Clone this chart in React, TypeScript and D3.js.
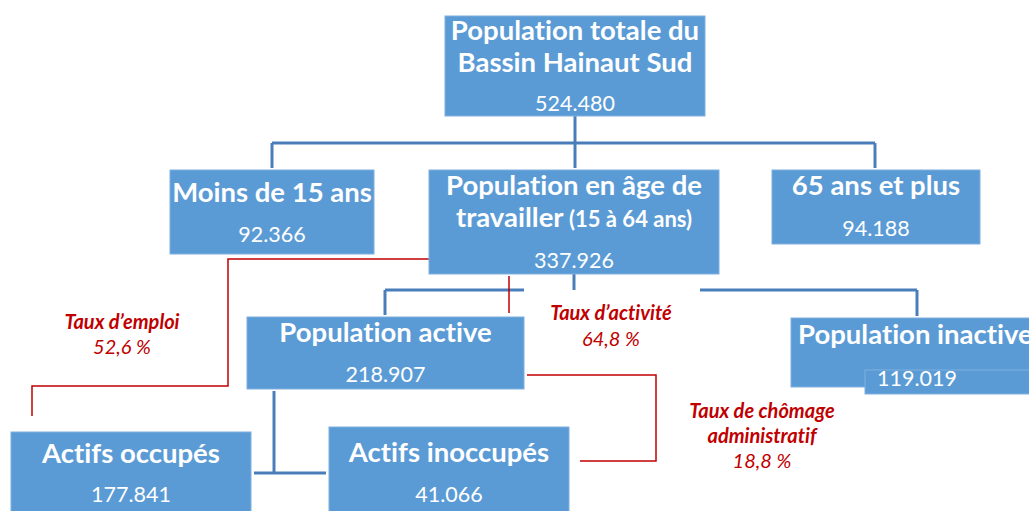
import React from "react";
import * as d3 from "d3";

// ---- data ----
const nodeIds = ["total", "moins15", "age", "plus65", "active", "inactive", "occupes", "inoccupes"];
const nodeTitles = [
  ["Population totale du", "Bassin Hainaut Sud"],
  ["Moins de 15 ans"],
  ["Population en âge de", "travailler"],
  ["65 ans et plus"],
  ["Population active"],
  ["Population inactive"],
  ["Actifs occupés"],
  ["Actifs inoccupés"],
];
const nodeSubtitles = ["", "", "(15 à 64 ans)", "", "", "", "", ""];
const nodeValues = [524480, 92366, 337926, 94188, 218907, 119019, 177841, 41066];
const rateNames = [["Taux d’emploi"], ["Taux d’activité"], ["Taux de chômage", "administratif"]];
const rateValues = [52.6, 64.8, 18.8];

// ---- layout (positions / styles) ----
const boxes: Record<string, { x: number; y: number; w: number; h: number; tb: number[]; vb: number; cx?: number; anchor?: string; tx?: number }> = {
  total: { x: 445, y: 16, w: 260, h: 100, tb: [40, 72], vb: 111 },
  moins15: { x: 170, y: 170, w: 204, h: 84, tb: [202], vb: 242 },
  age: { x: 429, y: 170, w: 290, h: 104, tb: [195, 227], vb: 268 },
  plus65: { x: 772, y: 170, w: 208, h: 74, tb: [195], vb: 236 },
  active: { x: 247, y: 317, w: 277, h: 72, tb: [342], vb: 382 },
  inactive: { x: 791, y: 318, w: 260, h: 69, tb: [344], vb: 386, anchor: "start", tx: 798, cx: 917 },
  occupes: { x: 11, y: 432, w: 240, h: 90, tb: [463], vb: 502 },
  inoccupes: { x: 329, y: 427, w: 240, h: 95, tb: [462], vb: 502 },
};
const rateLayout = [
  { cx: 122, lines: [329], vline: 354 },
  { cx: 611, lines: [320], vline: 346 },
  { cx: 762, lines: [418, 443], vline: 468 },
];
const blueLines: [number, number][][] = [
  [[575, 116], [575, 143]],
  [[272, 143], [875, 143]],
  [[272, 143], [272, 168]],
  [[575, 143], [575, 168]],
  [[875, 143], [875, 168]],
  [[574, 274], [574, 290]],
  [[385, 290], [524, 290]],
  [[700, 290], [917, 290]],
  [[385, 290], [385, 315]],
  [[917, 290], [917, 316]],
  [[274, 391], [274, 473]],
  [[254, 473], [326, 473]],
];
const redLines: [number, number][][] = [
  [[429, 259], [228, 259], [228, 386], [32, 386], [32, 416]],
  [[509, 276], [509, 313]],
  [[527, 375], [656, 375], [656, 461], [580, 461]],
];

const FILL = "#5b9bd5";
const BLUE_LINE = "#4a7ebb";
const RED = "#c00000";
const FONT = "Lato, 'Open Sans', sans-serif";
const TITLE_SIZE = 27.5;
const SUB_SIZE = 22;
const VALUE_SIZE = 21.5;
const RATE_SIZE = 20;

const fmt = (v: number) => d3.format(",")(v).replace(/,/g, ".");
const fmtPct = (v: number) => d3.format(".1f")(v).replace(".", ",") + " %";
const line = d3.line<[number, number]>().x((d) => d[0]).y((d) => d[1]);

export default function App() {
  return (
    <svg
      width={1029}
      height={511}
      style={{ position: "absolute", left: 0, top: 0, background: "#fff", fontVariantLigatures: "none" }}
      fontFamily={FONT}
    >
      {blueLines.map((p, i) => (
        <path key={"b" + i} d={line(p) || ""} stroke={BLUE_LINE} strokeWidth={3} fill="none" />
      ))}
      {redLines.map((p, i) => (
        <path key={"r" + i} d={line(p) || ""} stroke={RED} strokeWidth={1.5} fill="none" />
      ))}
      {nodeIds.map((id, i) => {
        const b = boxes[id];
        const cx = b.cx ?? b.x + b.w / 2;
        return (
          <g key={id}>
            <rect x={b.x} y={b.y} width={b.w} height={b.h} fill={FILL} stroke="#7fb0de" strokeWidth={1} />
            {id === "inactive" && <rect x={865} y={370} width={180} height={24} fill={FILL} stroke="#7fb0de" strokeWidth={1} />}
            {nodeTitles[i].map((t, j) => {
              const last = j === nodeTitles[i].length - 1;
              const sub = last && nodeSubtitles[i];
              return (
                <text
                  key={j}
                  x={b.tx ?? cx}
                  y={b.tb[j]}
                  textAnchor={b.anchor ?? "middle"}
                  fill="#fff"
                  fontWeight="bold"
                  fontSize={TITLE_SIZE}
                >
                  {t}
                  {sub ? <tspan fontSize={SUB_SIZE}>{" " + sub}</tspan> : null}
                </text>
              );
            })}
            <text x={cx} y={b.vb} textAnchor="middle" fill="#fff" fontSize={VALUE_SIZE}>
              {fmt(nodeValues[i])}
            </text>
          </g>
        );
      })}
      {rateNames.map((names, i) => {
        const r = rateLayout[i];
        return (
          <g key={"rate" + i} fill={RED} fontStyle="italic" textAnchor="middle">
            {names.map((n, j) => (
              <text key={j} x={r.cx} y={r.lines[j]} fontWeight="bold" fontSize={RATE_SIZE}>
                {n}
              </text>
            ))}
            <text x={r.cx} y={r.vline} fontSize={RATE_SIZE}>
              {fmtPct(rateValues[i])}
            </text>
          </g>
        );
      })}
    </svg>
  );
}
